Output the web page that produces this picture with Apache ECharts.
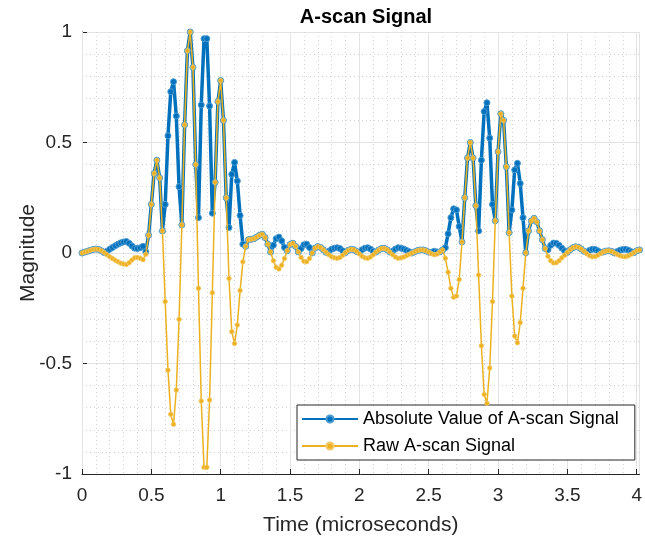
<!DOCTYPE html>
<html>
<head>
<meta charset="utf-8">
<script src="https://cdn.jsdelivr.net/npm/echarts@6/dist/echarts.min.js"></script>
<style>
html, body { margin: 0; padding: 0; background: #fff; }
#main { width: 645px; height: 542px; }
</style>
</head>
<body>
<div id="main"></div>
<script>
// sample spacing in microseconds
var dt = 0.02;

// raw A-scan signal, one value per sample
var rawSignal = [
  0.000, 0.004, 0.008, 0.012, 0.016, 0.018, 0.016, 0.010, 0.002, -0.008,
  -0.017, -0.025, -0.033, -0.040, -0.046, -0.050, -0.052, -0.044, -0.032, -0.022,
  -0.020, -0.024, -0.030, -0.006, 0.080, 0.220, 0.360, 0.420, 0.340, 0.100,
  -0.220, -0.530, -0.730, -0.775, -0.620, -0.300, 0.127, 0.580, 0.915, 1.000,
  0.840, 0.400, -0.160, -0.670, -0.970, -0.970, -0.665, -0.180, 0.320, 0.685,
  0.780, 0.600, 0.250, -0.115, -0.356, -0.410, -0.326, -0.170, -0.040, 0.030,
  0.060, 0.062, 0.065, 0.072, 0.080, 0.085, 0.070, 0.040, 0.005, -0.035,
  -0.065, -0.072, -0.055, -0.025, 0.010, 0.038, 0.044, 0.030, 0.005, -0.020,
  -0.037, -0.040, -0.025, 0.000, 0.022, 0.029, 0.025, 0.015, 0.003, -0.008,
  -0.017, -0.022, -0.024, -0.020, -0.010, 0.002, 0.012, 0.017, 0.015, 0.007,
  -0.004, -0.015, -0.022, -0.024, -0.018, -0.008, 0.004, 0.014, 0.020, 0.021,
  0.015, 0.004, -0.008, -0.018, -0.024, -0.022, -0.018, -0.012, -0.006, 0.000,
  0.006, 0.011, 0.014, 0.014, 0.010, 0.004, -0.003, -0.008, -0.005, 0.005,
  0.014, -0.024, -0.087, -0.160, -0.200, -0.195, -0.120, 0.050, 0.250, 0.430,
  0.500, 0.430, 0.214, -0.100, -0.420, -0.640, -0.680, -0.520, -0.220, 0.146,
  0.458, 0.630, 0.600, 0.390, 0.092, -0.195, -0.376, -0.406, -0.315, -0.160,
  0.001, 0.100, 0.145, 0.157, 0.140, 0.100, 0.060, 0.020, -0.015, -0.035,
  -0.045, -0.044, -0.035, -0.022, -0.010, 0.003, 0.015, 0.024, 0.028, 0.026,
  0.018, 0.008, -0.003, -0.012, -0.017, -0.016, -0.010, -0.002, 0.005, 0.009,
  0.010, 0.007, 0.000, -0.007, -0.013, -0.016, -0.017, -0.013, -0.006, 0.002,
  0.010, 0.014
];

// absolute value of the A-scan signal
var absSignal = [
  0.000, 0.004, 0.008, 0.012, 0.016, 0.018, 0.016, 0.010, 0.002, 0.008,
  0.017, 0.025, 0.033, 0.040, 0.046, 0.050, 0.052, 0.044, 0.032, 0.022,
  0.020, 0.024, 0.030, 0.006, 0.080, 0.220, 0.360, 0.420, 0.340, 0.100,
  0.220, 0.530, 0.730, 0.775, 0.620, 0.300, 0.127, 0.580, 0.915, 1.000,
  0.840, 0.400, 0.160, 0.670, 0.970, 0.970, 0.665, 0.180, 0.320, 0.685,
  0.780, 0.600, 0.250, 0.115, 0.356, 0.410, 0.326, 0.170, 0.040, 0.030,
  0.060, 0.062, 0.065, 0.072, 0.080, 0.085, 0.070, 0.040, 0.005, 0.035,
  0.065, 0.072, 0.055, 0.025, 0.010, 0.038, 0.044, 0.030, 0.005, 0.020,
  0.037, 0.040, 0.025, 0.000, 0.022, 0.029, 0.025, 0.015, 0.003, 0.008,
  0.017, 0.022, 0.024, 0.020, 0.010, 0.002, 0.012, 0.017, 0.015, 0.007,
  0.004, 0.015, 0.022, 0.024, 0.018, 0.008, 0.004, 0.014, 0.020, 0.021,
  0.015, 0.004, 0.008, 0.018, 0.024, 0.022, 0.018, 0.012, 0.006, 0.000,
  0.006, 0.011, 0.014, 0.014, 0.010, 0.004, 0.003, 0.008, 0.005, 0.005,
  0.014, 0.024, 0.087, 0.160, 0.200, 0.195, 0.120, 0.050, 0.250, 0.430,
  0.500, 0.430, 0.214, 0.100, 0.420, 0.640, 0.680, 0.520, 0.220, 0.146,
  0.458, 0.630, 0.600, 0.390, 0.092, 0.195, 0.376, 0.406, 0.315, 0.160,
  0.001, 0.100, 0.145, 0.157, 0.140, 0.100, 0.060, 0.020, 0.015, 0.035,
  0.045, 0.044, 0.035, 0.022, 0.010, 0.003, 0.015, 0.024, 0.028, 0.026,
  0.018, 0.008, 0.003, 0.012, 0.017, 0.016, 0.010, 0.002, 0.005, 0.009,
  0.010, 0.007, 0.000, 0.007, 0.013, 0.016, 0.017, 0.013, 0.006, 0.002,
  0.010, 0.014
];

var seriesNames = ['Absolute Value of A-scan Signal', 'Raw A-scan Signal'];

var tMax = 4.02;
var font = '"Liberation Sans", Arial, Helvetica, sans-serif';
var ink = '#262626';

function pairs(vals) {
  var out = [];
  for (var i = 0; i < vals.length; i++) {
    out.push([+(i * dt).toFixed(2), vals[i]]);
  }
  return out;
}

var myChart = echarts.init(document.getElementById('main'), null, { renderer: 'canvas' });

var option = {
  animation: false,
  backgroundColor: '#fff',
  title: {
    text: 'A-scan Signal',
    left: 361,
    top: 2,
    textAlign: 'center',
    textStyle: { fontFamily: font, fontSize: 20, fontWeight: 'bold', color: '#000' }
  },
  legend: {
    orient: 'vertical',
    left: 297,
    top: 405,
    data: seriesNames,
    backgroundColor: '#fff',
    borderColor: ink,
    borderWidth: 1,
    borderRadius: 0,
    padding: [5, 16, 5, 4],
    itemWidth: 56,
    itemHeight: 9,
    itemGap: 9,
    textStyle: { fontFamily: font, fontSize: 18, color: '#000' }
  },
  grid: { left: 82, top: 32, width: 558, height: 442, containLabel: false },
  xAxis: [
    {
      // minor grid only
      type: 'value',
      position: 'top',
      min: 0,
      max: tMax,
      interval: 0.1,
      z: 0,
      axisLine: { show: false },
      axisTick: { show: false },
      axisLabel: { show: false },
      splitLine: { show: true, lineStyle: { color: '#d4d4d4', type: [1, 3], width: 1 } }
    },
    {
      type: 'value',
      position: 'bottom',
      min: 0,
      max: tMax,
      interval: 0.5,
      z: 2,
      name: 'Time (microseconds)',
      nameLocation: 'middle',
      nameGap: 41,
      nameTextStyle: { fontFamily: font, fontSize: 21, color: ink },
      axisLine: { show: true, onZero: false, lineStyle: { color: ink, width: 1 } },
      axisTick: { show: true, inside: true, length: 5, lineStyle: { color: ink } },
      axisLabel: {
        showMaxLabel: false,
        margin: 12,
        fontFamily: font,
        fontSize: 19,
        color: ink
      },
      splitLine: { show: true, lineStyle: { color: '#e3e3e3', width: 1 } }
    }
  ],
  yAxis: {
    type: 'value',
    min: -1,
    max: 1,
    interval: 0.5,
    name: 'Magnitude',
    nameLocation: 'middle',
    nameGap: 43,
    nameRotate: 90,
    nameMoveOverlap: false,
    nameTextStyle: { fontFamily: font, fontSize: 21, color: ink },
    axisLine: { show: true, onZero: false, lineStyle: { color: ink, width: 1 } },
    axisTick: { show: true, inside: true, length: 5, lineStyle: { color: ink } },
    axisLabel: { margin: 10, fontFamily: font, fontSize: 19, color: ink },
    splitLine: { show: true, lineStyle: { color: '#e3e3e3', width: 1 } },
    minorTick: { show: false, splitNumber: 5 },
    minorSplitLine: { show: true, lineStyle: { color: '#d4d4d4', type: [1, 3], width: 1 } }
  },
  series: [
    {
      name: seriesNames[0],
      type: 'line',
      xAxisIndex: 1,
      data: pairs(absSignal),
      symbol: 'circle',
      symbolSize: 6,
      showAllSymbol: true,
      z: 3,
      lineStyle: { color: '#0072BD', width: 3.5 },
      itemStyle: { color: '#0072BD', borderColor: '#4d9bd2', borderWidth: 1 }
    },
    {
      name: seriesNames[1],
      type: 'line',
      xAxisIndex: 1,
      data: pairs(rawSignal),
      symbol: 'circle',
      symbolSize: 4.5,
      showAllSymbol: true,
      z: 4,
      lineStyle: { color: '#EDB120', width: 1.5 },
      itemStyle: { color: '#EDB120', borderColor: '#f3c96a', borderWidth: 0.8 }
    }
  ]
};

myChart.setOption(option);
</script>
</body>
</html>
